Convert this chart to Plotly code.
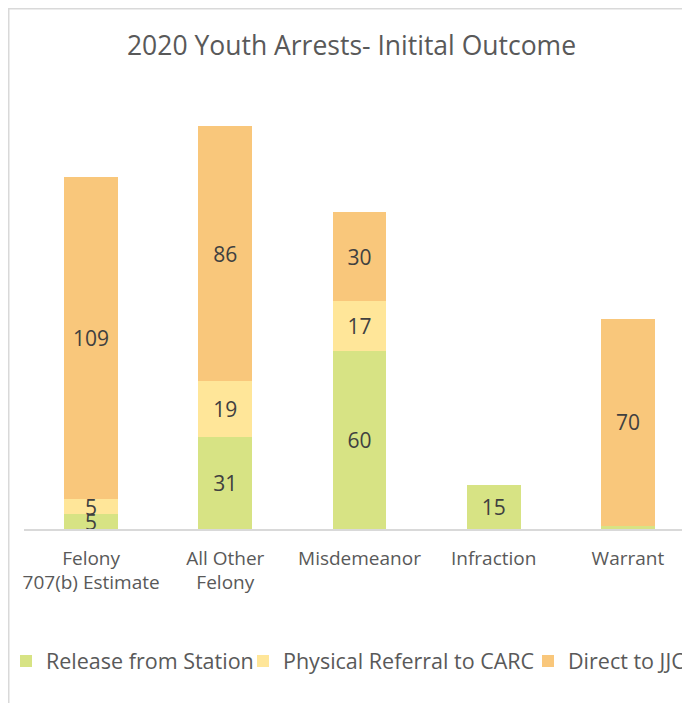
import plotly.graph_objects as go

categories = ["Felony<br>707(b) Estimate", "All Other<br>Felony", "Misdemeanor", "Infraction", "Warrant"]
release_from_station = [5, 31, 60, 15, 1]
physical_referral_carc = [5, 19, 17, 0, 0]
direct_to_jjc = [109, 86, 30, 0, 70]

series = [
    ("Release from Station", release_from_station, "#D7E384"),
    ("Physical Referral to CARC", physical_referral_carc, "#FFE699"),
    ("Direct to JJC", direct_to_jjc, "#F9C77B"),
]
legend_ids = ["legend", "legend2", "legend3"]
legend_page_x = [6, 243, 528]

FONT = "Open Sans"
GRAY = "#595959"

fig = go.Figure()
for (name, vals, color), lid in zip(series, legend_ids):
    fig.add_trace(go.Bar(
        name=name,
        x=categories,
        y=vals,
        legend=lid,
        marker=dict(color=color, line=dict(width=0)),
        text=[str(v) if v >= 5 else "" for v in vals],
        textposition="inside",
        insidetextanchor="middle",
        textangle=0,
        constraintext="none",
        textfont=dict(family=FONT, size=21, color="#404040"),
        hoverinfo="skip",
    ))

W, H = 690, 703
OFF = 8  # page body margin
L, R, T, B = 24 - OFF, 3, 100 - OFF, H - (529 - OFF)
pw, ph = W - L - R, H - T - B

def px_x(p):
    return (p - OFF - L) / pw

def px_y(p):
    return (H - B - (p - OFF)) / ph

legend_style = dict(
    orientation="h",
    xanchor="left",
    y=px_y(661), yanchor="middle",
    font=dict(family=FONT, size=21.5, color=GRAY),
    itemwidth=30,
    bgcolor="rgba(0,0,0,0)",
)

fig.update_layout(
    width=W, height=H,
    barmode="stack",
    bargap=0.6,
    plot_bgcolor="white",
    paper_bgcolor="white",
    margin=dict(l=L, r=R, t=T, b=B, autoexpand=False),
    title=dict(
        text="2020 Youth Arrests- Initital Outcome",
        x=(351.5 - OFF) / W, xref="container", xanchor="center",
        y=1 - (46 - OFF) / H, yref="container", yanchor="middle",
        font=dict(family=FONT, size=26.5, color=GRAY),
    ),
    xaxis=dict(
        range=[-0.5, 4.5],
        showgrid=False,
        showline=True, linecolor="#D9D9D9", linewidth=1.5,
        ticks="",
        ticklabelstandoff=11,
        tickfont=dict(family=FONT, size=19, color=GRAY),
    ),
    yaxis=dict(
        range=[0, ph / 2.96],
        visible=False,
        showgrid=False,
    ),
    showlegend=True,
    shapes=[dict(
        type="rect", xref="paper", yref="paper",
        x0=px_x(8.75), x1=px_x(800), y0=px_y(8.75), y1=px_y(800),
        line=dict(color="#D9D9D9", width=1.5),
        fillcolor="rgba(0,0,0,0)",
        layer="below",
    )],
)
for lid, lx in zip(legend_ids, legend_page_x):
    fig.update_layout({lid: dict(legend_style, x=px_x(lx))})

fig.write_html("out.html")
